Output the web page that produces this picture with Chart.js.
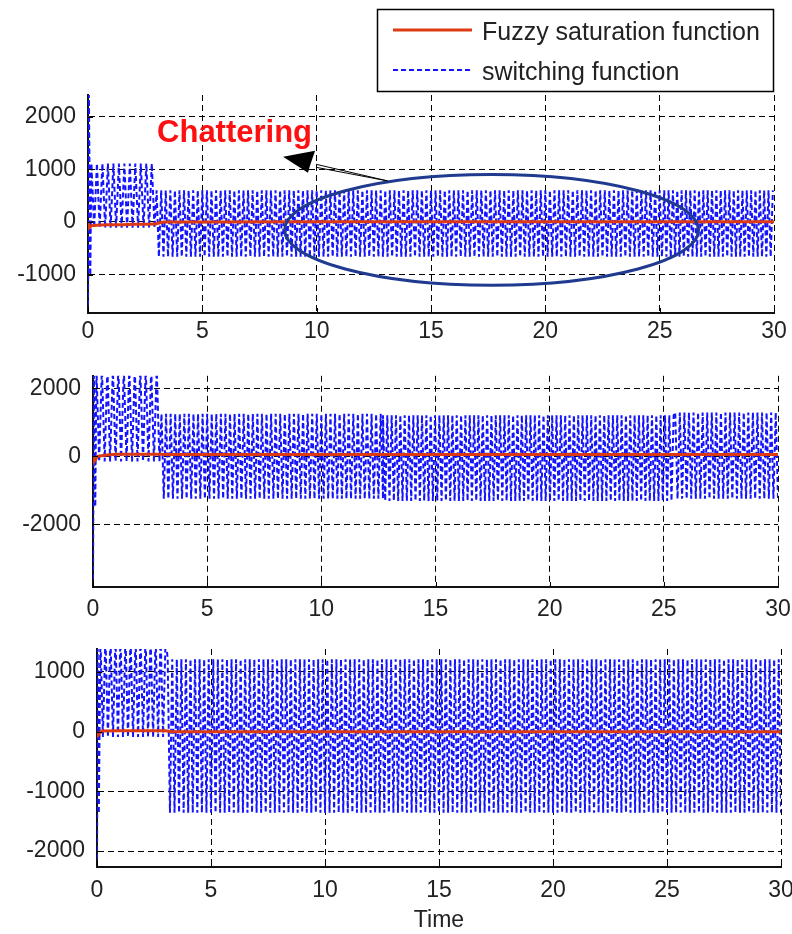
<!DOCTYPE html>
<html><head><meta charset="utf-8">
<script src="https://cdn.jsdelivr.net/npm/chart.js@4/dist/chart.umd.min.js"></script>
<style>
html,body{margin:0;padding:0;background:#fff;}
body{width:792px;height:934px;position:relative;overflow:hidden;}
canvas{position:absolute;left:0;}
</style></head><body>
<canvas id="c1" width="830" height="350" style="top:0px"></canvas>
<canvas id="c2" width="830" height="270" style="top:350px"></canvas>
<canvas id="c3" width="830" height="314" style="top:620px"></canvas>
<script>
// ---------------- data ----------------
const xTicks = [0, 5, 10, 15, 20, 25, 30];
const legendLabels = ['Fuzzy saturation function', 'switching function'];
const xTitle = 'Time';
const noteText = 'Chattering';

// panel 1
const p1YTicks = [-1000, 0, 1000, 2000];
const p1YRange = [-1727, 2410];
const p1RedT = [0, 0.05, 0.15, 0.5, 1.0, 1.5, 2.0, 2.5, 2.95, 3.1, 3.3, 5, 10, 15, 20, 25, 30];
const p1RedV = [0, -110, -70, -55, -50, -50, -45, -45, -40, -20, 0, 0, 5, 5, 5, 5, 5];
const p1SpikeT = [0, 0.04, 0.1];
const p1SpikeV = [-1727, 2410, -1010];
const p1SegStart = [0.15, 3.0, 25.2];
const p1SegEnd = [3.0, 25.2, 30];
const p1SegHigh = [1110, 600, 600];
const p1SegLow = [-110, -660, -660];
const p1SegStep = [0.12, 0.1, 0.095];

// panel 2
const p2YTicks = [-2000, 0, 2000];
const p2YRange = [-3844, 2369];
const p2RedT = [0, 0.05, 0.2, 0.6, 1, 2, 3, 3.2, 5, 10, 15, 20, 25, 30];
const p2RedV = [0, -150, 0, 40, 60, 60, 60, 55, 55, 55, 55, 55, 55, 55];
const p2SpikeT = [0, 0.04, 0.1];
const p2SpikeV = [-3844, 2369, -1480];
const p2SegStart = [0.15, 3.0, 12.7, 25.5];
const p2SegEnd = [3.0, 12.7, 25.5, 30];
const p2SegHigh = [2600, 1250, 1210, 1290];
const p2SegLow = [-150, -1250, -1310, -1250];
const p2SegStep = [0.12, 0.1, 0.095, 0.1];

// panel 3
const p3YTicks = [-2000, -1000, 0, 1000];
const p3YRange = [-2266, 1385];
const p3RedT = [0, 0.05, 0.2, 1, 2, 3, 3.3, 5, 10, 15, 20, 25, 30];
const p3RedV = [0, -60, 10, 15, 15, 15, 0, 0, 0, 0, 0, 0, 0];
const p3SpikeT = [0, 0.03, 0.08];
const p3SpikeV = [-2266, 1385, -1370];
const p3SegStart = [0.15, 3.1];
const p3SegEnd = [3.1, 30];
const p3SegHigh = [1600, 1213];
const p3SegLow = [-90, -1357];
const p3SegStep = [0.11, 0.1];

// ---------------- styling ----------------
const FONT = '"Liberation Sans", Arial, Helvetica, sans-serif';
const RED = '#dc3a12';
const BLUE = '#1414ff';
const TXT = '#222222';

function pairs(ts, vs) { return ts.map((t, i) => ({x: t, y: vs[i]})); }

// switching signal: jumps between the read upper and lower level of each band
function switching(spT, spV, st, en, hi, lo, step) {
  const pts = pairs(spT, spV);
  for (let s = 0; s < st.length; s++) {
    let k = 0;
    for (let t = st[s]; t <= en[s] + 1e-9; t += step[s], k++) {
      pts.push({x: t, y: (k % 2 === 0) ? hi[s] : lo[s]});
    }
  }
  return pts;
}

const inwardTicks = {
  id: 'inwardTicks',
  afterDatasetsDraw(chart) {
    const {ctx, chartArea: a, scales} = chart;
    ctx.save();
    ctx.strokeStyle = '#000'; ctx.lineWidth = 1;
    ctx.beginPath();
    scales.x.ticks.forEach(tk => {
      const px = Math.round(scales.x.getPixelForValue(tk.value)) + 0.5;
      ctx.moveTo(px, a.bottom); ctx.lineTo(px, a.bottom - 5);
    });
    scales.y.ticks.forEach(tk => {
      const py = Math.round(scales.y.getPixelForValue(tk.value)) + 0.5;
      ctx.moveTo(a.left, py); ctx.lineTo(a.left + 5, py);
    });
    ctx.stroke();
    ctx.restore();
  }
};

const legendBox = {
  id: 'legendBox',
  afterDraw(chart) {
    const {ctx, chartArea: a} = chart;
    const ds = chart.data.datasets;
    const right = a.right, left = right - 397, top = 9, bottom = a.top - 3;
    ctx.save();
    ctx.fillStyle = '#fff';
    ctx.fillRect(left, top, right - left, bottom - top);
    ctx.strokeStyle = '#000'; ctx.lineWidth = 1.5;
    ctx.strokeRect(left + 0.5, top + 0.5, right - left - 1, bottom - top - 1);
    const rows = [30, 70];
    ds.forEach((d, i) => {
      ctx.save();
      ctx.strokeStyle = d.borderColor; ctx.lineWidth = i === 0 ? 3 : 2;
      ctx.setLineDash(d.borderDash || []);
      ctx.beginPath(); ctx.moveTo(left + 16, rows[i]); ctx.lineTo(left + 95, rows[i]); ctx.stroke();
      ctx.restore();
      ctx.fillStyle = TXT; ctx.font = '25px ' + FONT; ctx.textBaseline = 'alphabetic';
      ctx.fillText(d.label, left + 105, rows[i] + 10);
    });
    ctx.restore();
  }
};

const noteAnn = {
  id: 'noteAnn',
  afterDatasetsDraw(chart, args, opts) {
    const {ctx, scales: {x, y}} = chart;
    const P = (t, v) => [x.getPixelForValue(t), y.getPixelForValue(v)];
    ctx.save();
    // ellipse
    const [cx, cy] = P(opts.ellipse.t, opts.ellipse.v);
    const rx = Math.abs(x.getPixelForValue(opts.ellipse.t + opts.ellipse.rt) - cx);
    const ry = Math.abs(y.getPixelForValue(opts.ellipse.v + opts.ellipse.rv) - cy);
    ctx.strokeStyle = '#1f3a8f'; ctx.lineWidth = 3;
    ctx.beginPath(); ctx.ellipse(cx, cy, rx, ry, 0, 0, Math.PI * 2); ctx.stroke();
    // arrow
    const [x0, y0] = P(opts.arrow.tail[0], opts.arrow.tail[1]);
    const [x1, y1] = P(opts.arrow.neck[0], opts.arrow.neck[1]);
    const [xt, yt] = P(opts.arrow.tip[0], opts.arrow.tip[1]);
    ctx.strokeStyle = '#000'; ctx.lineWidth = 1;
    ctx.beginPath(); ctx.moveTo(x0, y0); ctx.lineTo(x1, y1 - 1.5); ctx.moveTo(x0, y0); ctx.lineTo(x1, y1 + 1.5); ctx.stroke();
    const [xa, ya] = P(opts.arrow.back1[0], opts.arrow.back1[1]);
    const [xb, yb] = P(opts.arrow.back2[0], opts.arrow.back2[1]);
    ctx.fillStyle = '#000';
    ctx.beginPath(); ctx.moveTo(xt, yt); ctx.lineTo(xa, ya); ctx.lineTo(x1 - 6, y1); ctx.lineTo(xb, yb); ctx.closePath(); ctx.fill();
    // label
    const [lx, ly] = P(opts.label.t, opts.label.v);
    ctx.fillStyle = '#ff1010'; ctx.font = 'bold 31px ' + FONT;
    ctx.textAlign = 'left'; ctx.textBaseline = 'alphabetic';
    ctx.fillText(noteText, lx, ly);
    ctx.restore();
  }
};

function makeChart(id, cfg) {
  return new Chart(document.getElementById(id), {
    type: 'line',
    data: {
      datasets: [
        {label: legendLabels[0], data: pairs(cfg.redT, cfg.redV), borderColor: RED, borderWidth: 3,
         pointRadius: 0, tension: 0, fill: false},
        {label: legendLabels[1], data: cfg.blue, borderColor: BLUE, borderWidth: 2, borderDash: [5, 3],
         pointRadius: 0, tension: 0, fill: false}
      ]
    },
    options: {
      responsive: false, animation: false, devicePixelRatio: 1, events: [],
      layout: {padding: {top: cfg.padTop, right: cfg.padRight, left: 0, bottom: 0}},
      plugins: Object.assign({legend: {display: false}, tooltip: {enabled: false}}, cfg.pluginOpts || {}),
      scales: {
        x: {
          type: 'linear', min: 0, max: 30,
          afterBuildTicks: s => { s.ticks = xTicks.map(v => ({value: v})); },
          afterFit: s => { s.height = cfg.xHeight; },
          grid: {color: '#000', lineWidth: 1, drawTicks: false, tickLength: 0},
          border: {display: true, color: '#111', width: 2, dash: [6, 4]},
          ticks: {font: {family: FONT, size: 23}, color: TXT, padding: cfg.xPad, maxRotation: 0, autoSkip: false,
                  callback: v => String(v)},
          title: {display: !!cfg.title, text: xTitle, font: {family: FONT, size: 23}, color: TXT, padding: {top: 0, bottom: 0}}
        },
        y: {
          type: 'linear', min: cfg.yRange[0], max: cfg.yRange[1],
          afterBuildTicks: s => { s.ticks = cfg.yTicks.map(v => ({value: v})); },
          afterFit: s => { s.width = cfg.yWidth; },
          grid: {color: '#000', lineWidth: 1, drawTicks: false, tickLength: 0},
          border: {display: true, color: '#111', width: 2, dash: [6, 4]},
          ticks: {font: {family: FONT, size: 23}, color: TXT, padding: 12, autoSkip: false,
                  callback: v => String(v)}
        }
      }
    },
    plugins: cfg.plugins
  });
}

makeChart('c1', {
  redT: p1RedT, redV: p1RedV,
  blue: switching(p1SpikeT, p1SpikeV, p1SegStart, p1SegEnd, p1SegHigh, p1SegLow, p1SegStep),
  yTicks: p1YTicks, yRange: p1YRange,
  padTop: 95, padRight: 56, xHeight: 37, yWidth: 88, xPad: 5,
  plugins: [inwardTicks, noteAnn, legendBox],
  pluginOpts: {noteAnn: {
    ellipse: {t: 17.65, v: -150, rt: 9.05, rv: 1050},
    arrow: {tail: [13.1, 780], neck: [9.97, 1067], tip: [8.53, 1238], back1: [9.93, 1352], back2: [9.62, 933]},
    label: {t: 3.02, v: 1527}
  }}
});
makeChart('c2', {
  redT: p2RedT, redV: p2RedV,
  blue: switching(p2SpikeT, p2SpikeV, p2SegStart, p2SegEnd, p2SegHigh, p2SegLow, p2SegStep),
  yTicks: p2YTicks, yRange: p2YRange,
  padTop: 18, padRight: 52, xHeight: 33, yWidth: 93, xPad: 9,
  plugins: [inwardTicks]
});
makeChart('c3', {
  redT: p3RedT, redV: p3RedV,
  blue: switching(p3SpikeT, p3SpikeV, p3SegStart, p3SegEnd, p3SegHigh, p3SegLow, p3SegStep),
  yTicks: p3YTicks, yRange: p3YRange,
  padTop: 29, padRight: 49, xHeight: 67, yWidth: 97, xPad: 10, title: true,
  plugins: [inwardTicks]
});
</script>
</body></html>
